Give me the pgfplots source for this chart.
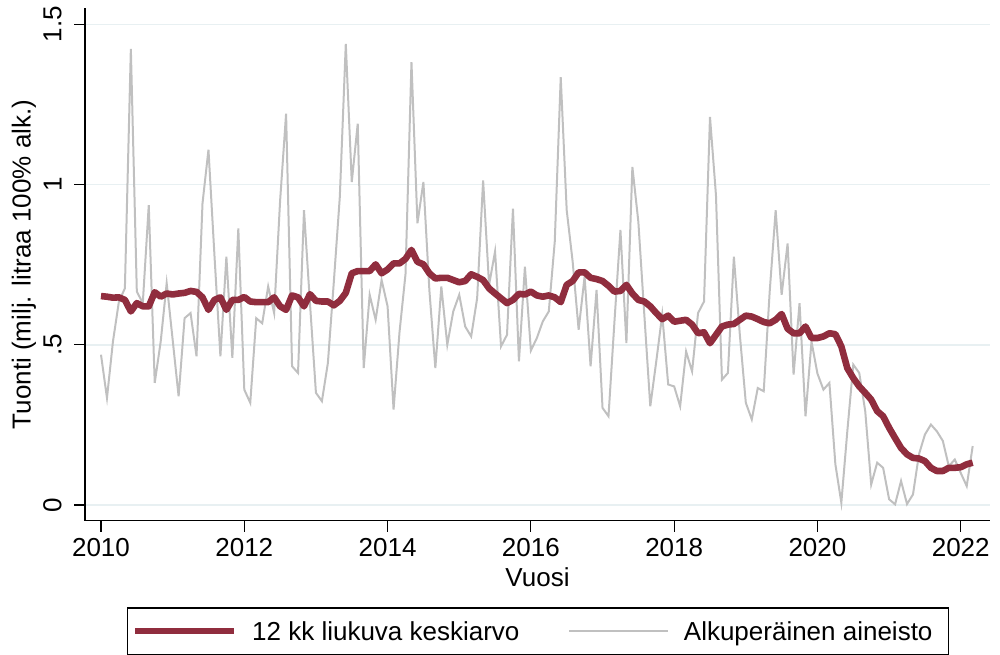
\documentclass[border=0pt]{standalone}
\usepackage{fontspec}
\setmainfont{Liberation Sans}
\usepackage{pgfplots}
\usepackage{pgfplotstable}
\pgfplotsset{compat=1.18}
\definecolor{cranb}{RGB}{144,45,62}
\definecolor{gline}{RGB}{192,192,192}
\definecolor{gridc}{RGB}{232,240,242}
\pgfplotstableread{
i v
0 0.469
1 0.334
2 0.51
3 0.635
4 0.676
5 1.423
6 0.666
7 0.63
8 0.936
9 0.381
10 0.51
11 0.692
12 0.516
13 0.339
14 0.583
15 0.599
16 0.464
17 0.941
18 1.109
19 0.78
20 0.464
21 0.775
22 0.459
23 0.863
24 0.36
25 0.319
26 0.583
27 0.567
28 0.682
29 0.599
30 0.95
31 1.221
32 0.433
33 0.412
34 0.92
35 0.63
36 0.35
37 0.324
38 0.443
39 0.697
40 0.962
41 1.439
42 1.008
43 1.19
44 0.427
45 0.656
46 0.578
47 0.702
48 0.62
49 0.298
50 0.54
51 0.72
52 1.382
53 0.879
54 1.008
55 0.67
56 0.427
57 0.682
58 0.5
59 0.604
60 0.656
61 0.557
62 0.526
63 0.645
64 1.013
65 0.687
66 0.791
67 0.495
68 0.531
69 0.925
70 0.448
71 0.744
72 0.482
73 0.521
74 0.573
75 0.604
76 0.822
77 1.335
78 0.92
79 0.759
80 0.547
81 0.713
82 0.433
83 0.671
84 0.303
85 0.277
86 0.573
87 0.858
88 0.505
89 1.055
90 0.884
91 0.594
92 0.308
93 0.448
94 0.594
95 0.376
96 0.37
97 0.308
98 0.479
99 0.417
100 0.599
101 0.635
102 1.211
103 0.967
104 0.391
105 0.412
106 0.775
107 0.531
108 0.319
109 0.267
110 0.365
111 0.355
112 0.666
113 0.92
114 0.656
115 0.816
116 0.407
117 0.63
118 0.277
119 0.51
120 0.41
121 0.36
122 0.381
123 0.127
124 0.007
125 0.23
126 0.438
127 0.412
128 0.293
129 0.064
130 0.132
131 0.116
132 0.018
133 0.002
134 0.075
135 0.003
136 0.033
137 0.158
138 0.22
139 0.251
140 0.23
141 0.2
142 0.121
143 0.142
144 0.1
145 0.059
146 0.184
}\orig
\pgfplotstableread{
i v
0 0.652
1 0.65
2 0.647
3 0.648
4 0.64
5 0.604
6 0.63
7 0.62
8 0.62
9 0.664
10 0.65
11 0.66
12 0.657
13 0.66
14 0.662
15 0.668
16 0.665
17 0.648
18 0.609
19 0.64
20 0.648
21 0.609
22 0.64
23 0.64
24 0.649
25 0.635
26 0.633
27 0.633
28 0.633
29 0.648
30 0.62
31 0.609
32 0.654
33 0.648
34 0.62
35 0.658
36 0.637
37 0.635
38 0.635
39 0.623
40 0.637
41 0.662
42 0.723
43 0.73
44 0.73
45 0.73
46 0.751
47 0.723
48 0.735
49 0.754
50 0.754
51 0.768
52 0.796
53 0.759
54 0.751
55 0.723
56 0.707
57 0.709
58 0.709
59 0.702
60 0.695
61 0.699
62 0.72
63 0.712
64 0.702
65 0.676
66 0.66
67 0.645
68 0.63
69 0.64
70 0.659
71 0.657
72 0.666
73 0.654
74 0.65
75 0.654
76 0.648
77 0.633
78 0.687
79 0.699
80 0.726
81 0.726
82 0.709
83 0.705
84 0.699
85 0.684
86 0.666
87 0.668
88 0.687
89 0.66
90 0.64
91 0.635
92 0.62
93 0.599
94 0.58
95 0.591
96 0.572
97 0.575
98 0.578
99 0.563
100 0.536
101 0.539
102 0.505
103 0.531
104 0.557
105 0.563
106 0.565
107 0.578
108 0.591
109 0.588
110 0.58
111 0.571
112 0.567
113 0.578
114 0.596
115 0.55
116 0.536
117 0.536
118 0.557
119 0.521
120 0.521
121 0.526
122 0.536
123 0.533
124 0.495
125 0.427
126 0.396
127 0.37
128 0.35
129 0.329
130 0.293
131 0.277
132 0.241
133 0.209
134 0.178
135 0.158
136 0.147
137 0.145
138 0.137
139 0.116
140 0.106
141 0.106
142 0.116
143 0.116
144 0.118
145 0.127
146 0.132
}\mavg
\begin{document}
\begin{tikzpicture}
\path[use as bounding box] (0pt,0pt) rectangle (500pt,327pt);
\begin{axis}[
  scale only axis, width=452.5pt, height=256.2pt,
  at={(42.5pt,66.65pt)}, anchor=south west,
  xmin=-2.68, xmax=148.9, ymin=-0.049, ymax=1.55,
  axis x line*=bottom, axis y line*=left,
  axis line style={-, line width=0.6pt, black},
  xtick={0,24,48,72,96,120,144},
  xticklabels={2010,2012,2014,2016,2018,2020,2022},
  ytick={0,0.5,1,1.5}, yticklabels={0,.5,1,1.5},
  minor tick num=0,
  tick align=outside, major tick length=5.5pt,
  tick style={black, line width=0.6pt},
  ymajorgrids, grid style={gridc, line width=0.8pt},
  font=\fontsize{13}{15.6}\selectfont,
  yticklabel style={rotate=90, anchor=south, inner xsep=0pt, inner ysep=6pt},
  xticklabel style={anchor=north, inner xsep=0pt, inner ysep=3.15pt},
  xlabel={Vuosi}, ylabel={Tuonti (milj. litraa 100\% alk.)},
  every axis x label/.style={at={(axis description cs:0.5,0)}, yshift=-28.15pt, anchor=center},
  every axis y label/.style={at={(axis description cs:0,0.5)}, xshift=-30.5pt, rotate=90, anchor=center},
  legend columns=2,
  legend cell align=left,
  legend image code/.code={\draw[#1] (0pt,0pt) -- (49.35pt,0pt);},
  legend style={at={(0.0467,-0.169)}, anchor=north west, draw=black, line width=0.6pt,
    inner xsep=2pt, inner ysep=6.9pt,
    font=\fontsize{13}{15.6}\selectfont,
    nodes={inner sep=0pt, text height=9.3pt, text depth=0pt},
    /tikz/every odd column/.append style={column sep=7.5pt},
    /tikz/every even column/.append style={column sep=24.35pt}},
]
\addplot[gline, line width=1pt, forget plot] table[x=i, y=v] {\orig};
\addplot[cranb, line width=3.3pt, line join=round] table[x=i, y=v] {\mavg};
\addlegendentry{12 kk liukuva keskiarvo}
\addlegendimage{gline, line width=1pt}
\addlegendentry{Alkuperäinen aineisto\hspace*{6pt}}
\end{axis}
\end{tikzpicture}
\end{document}
